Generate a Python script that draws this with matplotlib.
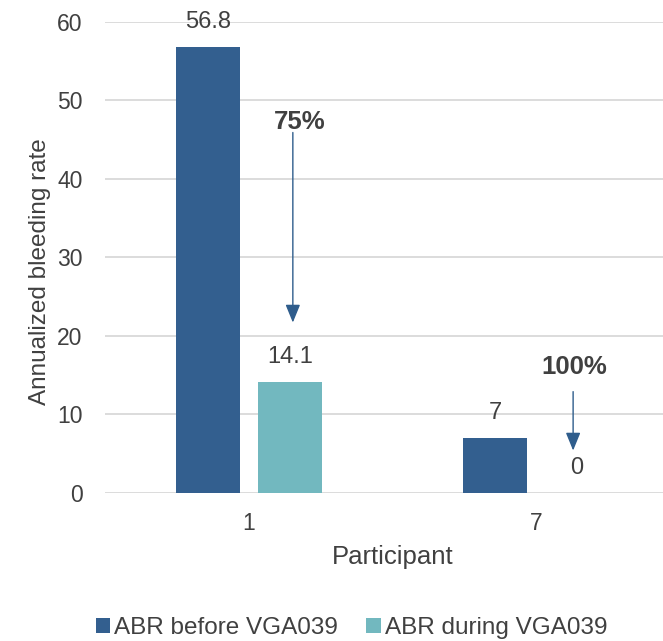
import matplotlib
matplotlib.use("Agg")
import matplotlib.pyplot as plt
import numpy as np

plt.rcParams['font.family'] = ['Liberation Sans', 'DejaVu Sans']

participants = ["1", "7"]
abr_before = [56.8, 7]
abr_during = [14.1, 0]
reductions = ["75%", "100%"]
# arrow start / end heights for the reduction callouts
arrow_from = [45.9, 12.9]
arrow_to = [21.7, 5.4]
pct_text_y = [47.3, 16.1]

dark = "#335F8F"
light = "#72B8BF"
txt = "#404040"

fig = plt.figure(figsize=(6.63, 6.41), dpi=100)
ax = fig.add_axes([0.158, 0.231, 0.842, 0.735])

x = np.arange(len(participants))
w = 0.223
off = 0.143
b1 = ax.bar(x - off, abr_before, w, color=dark, label="ABR before VGA039", zorder=3)
b2 = ax.bar(x + off, abr_during, w, color=light, label="ABR during VGA039", zorder=3)

for bars, vals in ((b1, abr_before), (b2, abr_during)):
    for rect, v in zip(bars, vals):
        ax.annotate(f"{v:g}", (rect.get_x() + rect.get_width() / 2, v),
                    xytext=(0, 18), textcoords="offset points",
                    ha="center", va="center", fontsize=17, color=txt)

arrow_x = [0.153, 1.129]
text_x = [0.178, 1.133]
for i in range(len(participants)):
    ax.annotate("", xy=(arrow_x[i], arrow_to[i]), xytext=(arrow_x[i], arrow_from[i]),
                arrowprops=dict(arrowstyle="-|>,head_width=0.45,head_length=1.1",
                                color="#2F5D8C", lw=1.0, shrinkA=0, shrinkB=0),
                zorder=4)
    ax.text(text_x[i], pct_text_y[i], reductions[i], ha="center", va="center",
            fontsize=18.5, fontweight="bold", color=txt)

ax.set_ylim(0, 60)
ax.set_yticks(range(0, 61, 10))
ax.set_xlim(-0.502, 1.442)
ax.set_xticks(x)
ax.set_xticklabels(participants)
ax.tick_params(length=0, labelsize=16.5, colors=txt, pad=14)
ax.tick_params(axis="y", pad=16)
ax.grid(axis="y", color="#D9D9D9", lw=1.3, zorder=0)
for s in ax.spines.values():
    s.set_visible(False)

ax.set_xlabel("Participant", fontsize=18.5, color=txt)
ax.set_ylabel("Annualized bleeding rate", fontsize=17.5, color=txt)
ax.xaxis.set_label_coords(0.516, -0.111)
ax.yaxis.set_label_coords(-0.097, 0.47)

fig.legend(handles=[b1, b2], loc="center", bbox_to_anchor=(0.53, 0.02),
           ncol=2, frameon=False, fontsize=17.5, labelcolor=txt,
           handlelength=0.6, handleheight=0.6, handletextpad=0.17, columnspacing=1.15)

fig.savefig("out.png", dpi=100)
